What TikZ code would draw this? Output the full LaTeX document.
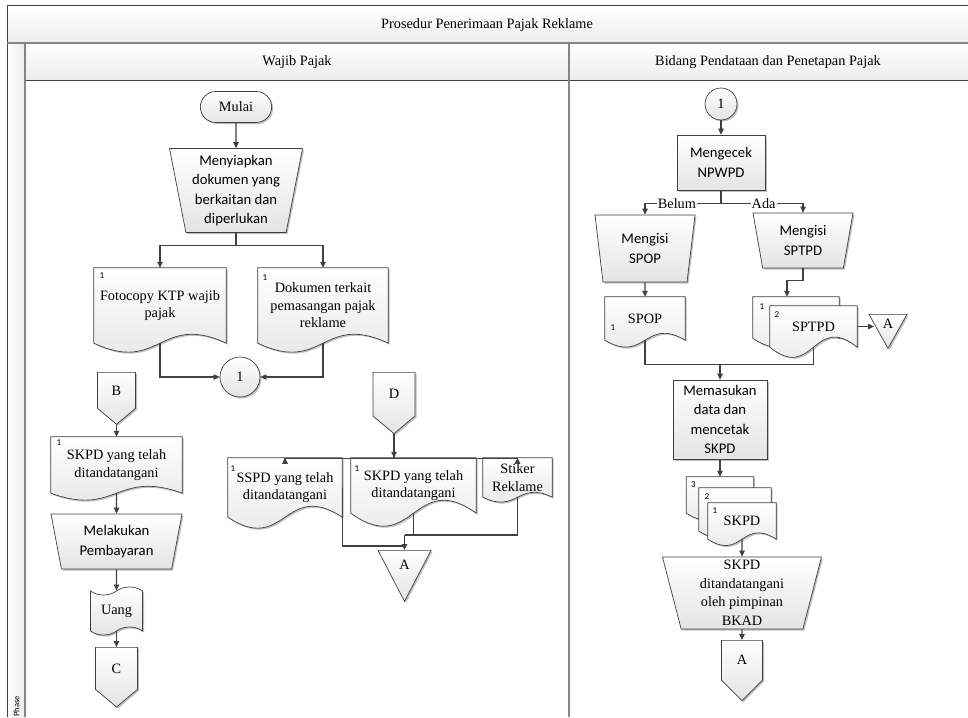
\documentclass[tikz,border=0pt]{standalone}
\usepackage{fontspec}
\setmainfont{Liberation Serif}
\newfontfamily\calibri{Carlito}
\usepackage{tikz}
\usetikzlibrary{arrows.meta,calc,positioning,shapes.geometric,shapes.symbols,shapes.misc,shadows,backgrounds}
\definecolor{edgegray}{HTML}{404040}
\definecolor{lanegray}{HTML}{858585}
\definecolor{shapegray}{HTML}{E4E4E4}
\definecolor{headgray}{HTML}{EDEDED}
\newcommand{\txtfont}{\fontsize{14.3}{17.5}\selectfont}
\newcommand{\ttdfont}{\fontsize{14.3}{18.5}\selectfont}
\newcommand{\opfont}{\calibri\fontsize{14.7}{19.5}\selectfont}
\newcommand{\numfont}{\calibri\fontsize{9}{9}\selectfont}
\newcommand{\phasefont}{\calibri\fontsize{8.5}{9}\selectfont}
% document page drawn round a named box, wavy bottom
\newcommand{\docpage}[2]{%
 \path[page] (#1.north west) -- (#1.north east) -- (#1.south east)
  .. controls ($(#1.south)+(0,-#2)$) and ($(#1.south)+(0,#2)$) .. (#1.south west) -- cycle;}

\begin{document}
\begin{tikzpicture}[x=1pt,y=-1pt,>={Triangle[length=6pt,width=5.5pt]},
 shadowed/.style={drop shadow={shadow xshift=1.5pt,shadow yshift=-1.5pt,opacity=.25,fill=black}},
 body/.style={draw=edgegray,line width=.7pt,top color=white,bottom color=shapegray,shadowed},
 page/.style={body},
 docbox/.style={rectangle,inner sep=0pt,align=center,font=\txtfont},
 manop/.style={trapezium,shape border rotate=180,trapezium stretches body,body,
  inner sep=0pt,align=center,font=\opfont},
 proc/.style={rectangle,body,align=center,font=\opfont,inner sep=0pt},
 term/.style={rounded rectangle,body,font=\txtfont,minimum width=78,minimum height=31},
 conn/.style={circle,body,font=\txtfont,inner sep=0pt},
 offpage/.style={signal,signal to=south,signal from=nowhere,signal pointer angle=100,
  body,font=\txtfont,inner sep=0pt,anchor=north},
 merge/.style={isosceles triangle,shape border rotate=-90,isosceles triangle stretches,
  body,font=\txtfont,inner sep=0pt,anchor=north},
 num/.style={font=\numfont,inner sep=0pt,anchor=north west},
 flow/.style={->,draw=edgegray,line width=1.1pt},
 link/.style={draw=edgegray,line width=1.1pt},
 tag/.style={fill=white,font=\txtfont,inner sep=1pt}]
\useasboundingbox (0,0) rectangle (968,717);
% pool and lanes
\shade[top color=white,bottom color=headgray] (7,6) rectangle (968,43);
\shade[top color=white,bottom color=headgray] (25,43) rectangle (968,80);
\shade[left color=white,right color=headgray] (7,43) rectangle (25,717);
\draw[edgegray,line width=1pt] (968,6) -- (7,6) -- (7,717);
\draw[edgegray,line width=1pt] (25,80) -- (968,80);
\draw[lanegray,line width=1.6pt] (7,43) -- (968,43);
\draw[lanegray,line width=1.6pt] (25,43) -- (25,717);
\draw[lanegray,line width=1.6pt] (569,43) -- (569,717);
\node[font=\txtfont] (pool) at (487,25) {Prosedur Penerimaan Pajak Reklame};
\node[font=\txtfont] (lanewp) at (297,62) {Wajib Pajak};
\node[font=\txtfont] (lanebp) at (768,62) {Bidang Pendataan dan Penetapan Pajak};
\node[rotate=90,anchor=west,inner sep=0pt,font=\phasefont] (phase) at (16.5,717) {Phase};

% Wajib Pajak
\node[term] (mulai) at (236,107) {Mulai};
\node[manop,trapezium angle=77,minimum width=133,minimum height=84] (siap) at (236,190.5)
 {Menyiapkan\\dokumen yang\\berkaitan dan\\diperlukan};
\node[docbox,minimum width=132,minimum height=75] (ktp) at (160,305.5) {Fotocopy KTP wajib\\pajak};
\node[docbox,minimum width=130,minimum height=75] (dok) at (323,305.5) {Dokumen terkait\\pemasangan pajak\\reklame};
\node[conn,minimum size=40] (c1) at (240,377) {1};
\node[offpage,minimum width=38,minimum height=40] (b) at (116.5,372) {B};
\node[docbox,minimum width=131,minimum height=56] (skpdB) at (116.5,465) {SKPD yang telah\\ditandatangani};
\node[manop,trapezium angle=72,minimum width=131,minimum height=55] (bayar) at (116.5,541.5) {Melakukan\\Pembayaran};
\node[tape,tape bend top=in and out,tape bend bottom=in and out,tape bend height=8pt,body,
 font=\txtfont,minimum width=52,minimum height=48] (uang) at (116.5,611) {Uang};
\node[offpage,minimum width=42,minimum height=46] (c) at (116.5,647) {C};
\node[offpage,minimum width=42,minimum height=48] (d) at (394,372) {D};
\node[docbox,minimum width=114,minimum height=59] (sspd) at (285,487.5) {SSPD yang telah\\ditandatangani};
\node[docbox,minimum width=125,minimum height=55] (skpdD) at (413.5,485.5) {SKPD yang telah\\ditandatangani};
\node[docbox,minimum width=69,minimum height=39] (stiker) at (517.5,477.5) {Stiker\\Reklame};
\node[merge,minimum width=53,minimum height=51] (a1) at (404.5,550) {A};

% Bidang Pendataan dan Penetapan Pajak
\node[conn,minimum size=32] (c2) at (721,104) {1};
\node[proc,minimum width=88,minimum height=55] (cek) at (721,162.5) {Mengecek\\NPWPD};
\node[manop,trapezium angle=75,minimum width=100,minimum height=67] (isipop) at (645,248.5) {Mengisi\\SPOP};
\node[manop,trapezium angle=72,minimum width=100,minimum height=55] (isiptpd) at (803,240.5) {Mengisi\\SPTPD};
\node[docbox,minimum width=80,minimum height=43] (spop) at (645,318.5) {SPOP};
\node[docbox,minimum width=86,minimum height=41] (sptpd1) at (796,317.5) {};
\node[docbox,minimum width=87,minimum height=41] (sptpd2) at (813.5,326.5) {SPTPD};
\node[merge,minimum width=38,minimum height=34] (a2) at (888,314) {A};
\node[proc,minimum width=94,minimum height=79] (masuk) at (720,419.5) {Memasukan\\data dan\\mencetak\\SKPD};
\node[docbox,minimum width=67,minimum height=36] (skpd3) at (720,495) {};
\node[docbox,minimum width=72,minimum height=43] (skpd2) at (735,509.5) {};
\node[docbox,minimum width=68,minimum height=36] (skpd1) at (742,521) {SKPD};
\node[manop,trapezium angle=74,minimum width=159,minimum height=72,font=\ttdfont] (ttd) at (742,593)
 {SKPD\\ditandatangani\\oleh pimpinan\\BKAD};
\node[offpage,minimum width=41,minimum height=45,signal pointer angle=90] (aoff) at (742,640) {A};

% page outlines behind the texts
\begin{scope}[on background layer]
\foreach \n/\k in {ktp/31,dok/31,skpdB/24,sspd/38,skpdD/45,stiker/17,spop/24,
 sptpd1/30,sptpd2/35,skpd3/22,skpd2/22,skpd1/22}
 \docpage{\n}{\k};
\end{scope}
\foreach \n/\dx/\dy/\t in {ktp/5.5/4.5/1,dok/4.5/6.5/1,skpdB/5.5/2.5/1,sspd/2.5/7.5/1,
 skpdD/3.5/7.5/1,spop/5.5/27.5/1,sptpd1/6.5/6.5/1,sptpd2/4.5/5.5/2,skpd3/4.5/4.5/3,
 skpd2/5.5/5.5/2,skpd1/4.5/4.5/1}
 \node[num] (n\n) at ($(\n.north west)+(\dx,\dy)$) {\t};

% connectors
\draw[flow] (mulai) -- (siap);
\draw[flow] (siap.south) -- ++(0,13) -| (ktp.north);
\draw[flow] (siap.south) -- ++(0,13) -| (dok.north);
\draw[flow] (ktp.south) |- (c1.west);
\draw[flow] (dok.south) |- (c1.east);
\draw[flow] (b.south) -- (skpdB.north);
\draw[flow] (skpdB.south) -- (bayar.north);
\draw[flow] (bayar.south) -- (uang.north);
\draw[flow] (uang.south) -- (c.north);
\draw[flow] (d.south) -- ++(0,24) -| (sspd.north);
\draw[flow] (d.south) -- ++(0,24) -| (stiker.north);
\draw[flow] (d.south) -- (d.south |- skpdD.north);
\coordinate (joinA) at ($(a1.north)+(0,-15)$);
\draw[link] (stiker.south) |- (joinA);
\draw[link] (skpdD.south) |- (joinA);
\draw[flow] (joinA) -- (a1.north);
\draw[link] (sspd.east) |- ($(a1.north)+(0,-4)$);
\draw[flow] (c2) -- (cek);
\draw[flow] (cek.south) -- ++(0,13) -| node[tag,pos=.29] (belum) {Belum} (isipop.north);
\draw[flow] (cek.south) -- ++(0,13) -| node[tag,pos=.26] (ada) {Ada} (isiptpd.north);
\draw[flow] (isipop.south) -- (spop.north);
\draw[flow] (isiptpd.south) -- ++(0,12) -| ([xshift=-9pt]sptpd1.north);
\draw[flow] (sptpd2.east) -- (sptpd2.east -| a2.west);
\coordinate (joinM) at ($(masuk.north)+(0,-15)$);
\draw[link] (spop.south) |- (joinM);
\draw[link] (sptpd2.south) |- (joinM);
\draw[flow] (joinM) -- (masuk.north);
\draw[flow] (masuk.south) -- (skpd3.north);
\draw[flow] (skpd1.south) -- (ttd.north);
\draw[flow] (ttd.south) -- (aoff.north);
\end{tikzpicture}
\end{document}
